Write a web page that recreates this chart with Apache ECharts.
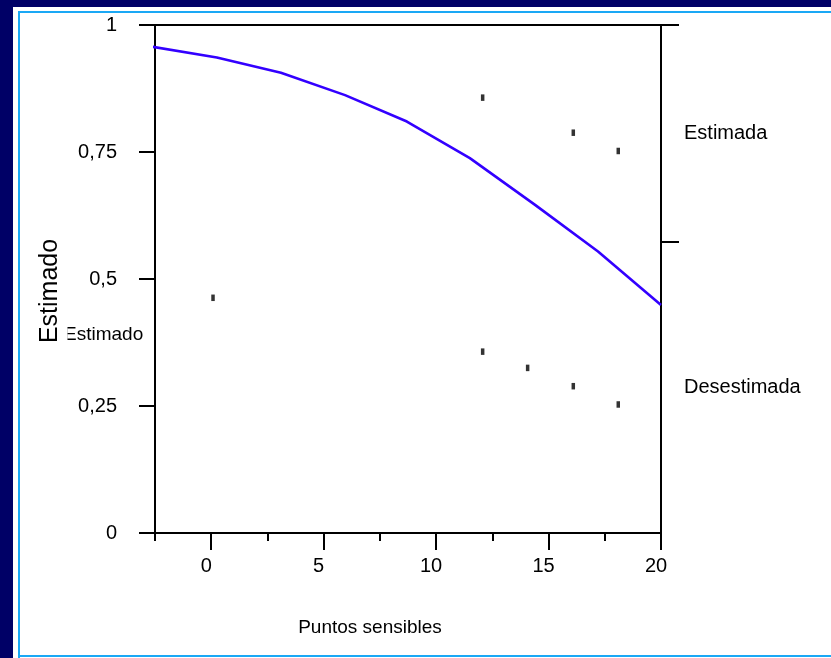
<!DOCTYPE html>
<html><head><meta charset="utf-8">
<script src="https://cdn.jsdelivr.net/npm/echarts@6/dist/echarts.min.js"></script>
<style>html,body{margin:0;padding:0;background:#fff}#c{width:831px;height:658px}</style>
</head><body><div id="c"></div>
<script>
// ---- data ----
const curveX = [-2.6, 0.25, 3.1, 5.95, 8.7, 11.5, 14.4, 17.2, 20];
const curveY = [0.957, 0.936, 0.906, 0.862, 0.81, 0.738, 0.646, 0.554, 0.449];
const pointX = [0.08, 12.07, 12.07, 14.07, 16.1, 16.1, 18.1, 18.1];
const pointY = [0.463, 0.857, 0.357, 0.325, 0.788, 0.289, 0.752, 0.253];
const xLabelValues = [0, 5, 10, 15, 20];
const rightTickValues = [0.5734, 1];
const rightLabelValues = [0.7867, 0.2867];
const rightLabels = ['Estimada', 'Desestimada'];
const xName = 'Puntos sensibles';
const yName = 'Estimado';
const extraLabel = 'Estimado';

const FONT = '"Liberation Sans", Arial, sans-serif';
const chart = echarts.init(document.getElementById('c'), null, {renderer: 'canvas'});
const axisLine = {show: true, onZero: false, lineStyle: {color: '#000', width: 2}};

const option = {
  backgroundColor: '#fff',
  animation: false,
  textStyle: {fontFamily: FONT, color: '#000'},
  graphic: [
    {type: 'rect', left: 0, top: 0, shape: {width: 13, height: 658}, style: {fill: '#000066'}, z: 100},
    {type: 'rect', left: 0, top: 0, shape: {width: 831, height: 7}, style: {fill: '#000066'}, z: 100},
    {type: 'rect', left: 18, top: 11, shape: {width: 813, height: 2}, style: {fill: '#1aa8f5'}, z: 100},
    {type: 'rect', left: 18, top: 11, shape: {width: 2, height: 647}, style: {fill: '#1aa8f5'}, z: 100},
    {type: 'rect', left: 18, top: 655, shape: {width: 813, height: 2}, style: {fill: '#1aa8f5'}, z: 100},
    {type: 'text', left: 64, top: 325, style: {text: extraLabel, font: '19px ' + FONT, fill: '#000'}, z: 50},
    {type: 'rect', left: 58, top: 322, shape: {width: 9.5, height: 24}, style: {fill: '#fff'}, z: 60}
  ],
  grid: {left: 155, top: 25, right: 170, bottom: 125, show: false},
  xAxis: [
    {
      type: 'value', position: 'bottom', min: -2.5, max: 20, interval: 2.5,
      axisLine: axisLine,
      axisTick: {show: true, length: 8, lineStyle: {color: '#000', width: 2}},
      axisLabel: {customValues: xLabelValues, fontSize: 20, color: '#000', margin: 23, fontFamily: FONT, padding: [0, 10, 0, 0]},
      splitLine: {show: false},
      name: xName, nameLocation: 'middle', nameGap: 85,
      nameTextStyle: {fontSize: 19, color: '#000', fontFamily: FONT, padding: [0, 76, 0, 0]}
    },
    {
      type: 'value', position: 'bottom', min: -2.5, max: 20,
      axisLine: {show: false, onZero: false},
      axisTick: {show: true, customValues: xLabelValues, length: 17, lineStyle: {color: '#000', width: 2}},
      axisLabel: {show: false},
      splitLine: {show: false}
    },
    {
      type: 'value', position: 'top', min: -2.5, max: 20,
      axisLine: axisLine, axisTick: {show: false}, axisLabel: {show: false}, splitLine: {show: false}
    }
  ],
  yAxis: [
    {
      type: 'value', position: 'left', min: 0, max: 1, interval: 0.25,
      axisLine: axisLine,
      axisTick: {show: true, length: 16, lineStyle: {color: '#000', width: 2}},
      axisLabel: {fontSize: 20, color: '#000', margin: 38, fontFamily: FONT,
        formatter: v => String(v).replace('.', ',')},
      splitLine: {show: false},
      name: yName, nameLocation: 'middle', nameGap: 92, nameRotate: 90,
      nameTextStyle: {fontSize: 25, color: '#000', fontFamily: FONT, padding: [0, 24, 0, 0]}
    },
    {
      type: 'value', position: 'right', min: 0, max: 1,
      axisLine: axisLine,
      axisTick: {show: true, customValues: rightTickValues, length: 18, lineStyle: {color: '#000', width: 2}},
      axisLabel: {customValues: rightLabelValues, fontSize: 20, color: '#000', margin: 23, fontFamily: FONT,
        formatter: v => rightLabels[rightLabelValues.indexOf(v)]},
      splitLine: {show: false}
    }
  ],
  series: [
    {
      type: 'line', xAxisIndex: 0, yAxisIndex: 0, clip: false,
      data: curveX.map((x, i) => [x, curveY[i]]),
      showSymbol: false, symbol: 'none',
      lineStyle: {color: '#3300ff', width: 2.6}
    },
    {
      type: 'scatter', xAxisIndex: 0, yAxisIndex: 0,
      data: pointX.map((x, i) => [x, pointY[i]]),
      symbol: 'rect', symbolSize: [3.5, 6.5],
      itemStyle: {color: '#000'}
    }
  ]
};
chart.setOption(option);
</script>
</body></html>
